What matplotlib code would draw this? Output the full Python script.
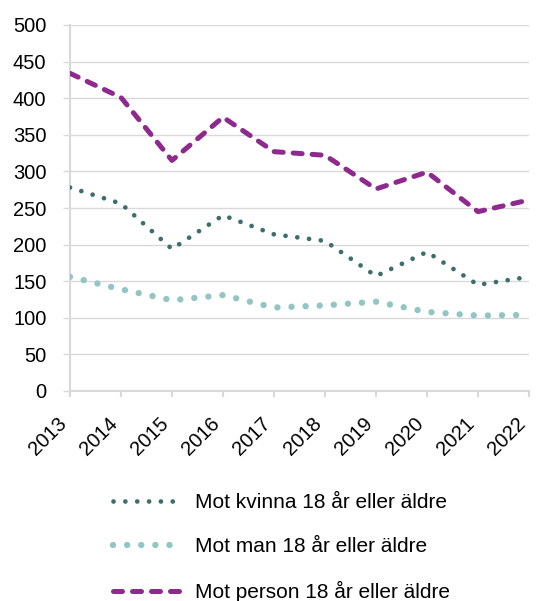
import matplotlib
matplotlib.use('Agg')
import matplotlib.pyplot as plt
from matplotlib.transforms import ScaledTranslation

# ── data ─────────────────────────────────────────────────────────────────────
years   = [2013, 2014, 2015, 2016, 2017, 2018, 2019, 2020, 2021, 2022]
kvinna  = [278, 256, 194, 240, 214, 205, 157, 190, 145, 156]
man     = [156, 139, 124, 131, 114, 117, 122, 108, 103, 104]
person  = [434, 401, 315, 374, 327, 322, 276, 299, 245, 261]
yticks  = [0, 50, 100, 150, 200, 250, 300, 350, 400, 450, 500]

lbl_kvinna = 'Mot kvinna 18 år eller äldre'
lbl_man    = 'Mot man 18 år eller äldre'
lbl_person = 'Mot person 18 år eller äldre'

# ── style ────────────────────────────────────────────────────────────────────
C_KV  = '#3c6e6c'
C_MAN = '#93c6c3'
C_PER = '#8e2a8e'
GRID  = '#d9d9d9'

plt.rcParams['font.family'] = ['Liberation Sans', 'DejaVu Sans']

fig = plt.figure(figsize=(5.36, 6.01), dpi=100)
ax = fig.add_axes([70/536, 1 - 391/601, (529 - 70)/536, (391 - 25)/601])

ax.plot(years, kvinna, color=C_KV, lw=3.4, ls=(0, (0.01, 2.5)),
        dash_capstyle='round', label=lbl_kvinna, zorder=3)
ax.plot(years, man, color=C_MAN, lw=4.6, ls=(0, (0.01, 2.2)),
        dash_capstyle='round', label=lbl_man, zorder=3)
ax.plot(years, person, color=C_PER, lw=3.6, ls=(0, (1.8, 2.0)),
        dash_capstyle='round', solid_capstyle='round', label=lbl_person, zorder=3)

ax.set_xlim(2013, 2022)
ax.set_ylim(0, 500)
ax.set_yticks(yticks)
ax.set_xticks(years)
ax.set_xticklabels([str(y) for y in years], rotation=45, ha='right',
                   va='bottom', rotation_mode='anchor')
shift = ScaledTranslation(3/100, 0, fig.dpi_scale_trans)
for t in ax.get_xticklabels():
    t.set_transform(t.get_transform() + shift)
ax.grid(True, axis='y', color=GRID, lw=1.0)
ax.set_axisbelow(True)

for side in ['top', 'right']:
    ax.spines[side].set_visible(False)
for side in ['left', 'bottom']:
    ax.spines[side].set_color(GRID)
    ax.spines[side].set_linewidth(1.5)

ax.tick_params(axis='y', length=5, width=1.0, color=GRID, labelsize=14.5, pad=12)
ax.tick_params(axis='x', length=4, width=1.5, color=GRID, labelsize=14.5, pad=22)

# ── legend ───────────────────────────────────────────────────────────────────
fig.legend(loc='upper left', bbox_to_anchor=(113/536, 1 - 493/601),
           frameon=False, fontsize=15, handlelength=3.35, handletextpad=0.6,
           labelspacing=1.2, borderpad=0, borderaxespad=0)

plt.savefig('out.png', dpi=100)
plt.close()
